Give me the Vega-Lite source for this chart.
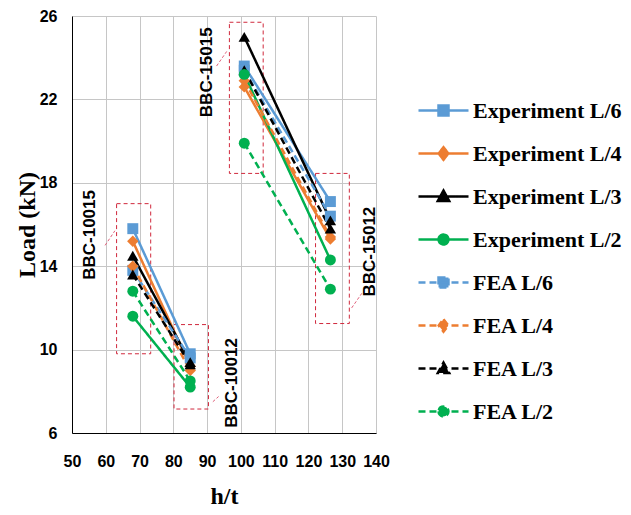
{
  "$schema": "https://vega.github.io/schema/vega-lite/v6.json",
  "autosize": {"type": "none"},
  "width": 304,
  "height": 417,
  "padding": {"left": 72, "top": 16, "right": 255, "bottom": 82},
  "background": "white",
  "config": {
    "view": {"stroke": null},
    "axis": {
      "gridColor": "#c6c6c6",
      "gridWidth": 1,
      "domainColor": "#000000",
      "domainWidth": 1,
      "ticks": false,
      "labelOverlap": false,
      "labelFlush": false,
      "labelFont": "Liberation Sans",
      "labelFontSize": 16,
      "labelFontWeight": "bold",
      "labelColor": "#000000",
      "titleFont": "Liberation Serif",
      "titleFontWeight": "bold",
      "titleColor": "#000000",
      "titleFontSize": 24
    },
    "axisX": {"labelOverlap": false, "labelFlush": false}
  },
  "datasets": {
    "series": [
      {"series": "Experiment L/6", "group": "BBC-100", "ht": 68, "load": 15.8},
      {"series": "Experiment L/6", "group": "BBC-100", "ht": 85, "load": 9.8},
      {"series": "Experiment L/6", "group": "BBC-150", "ht": 101, "load": 23.6},
      {"series": "Experiment L/6", "group": "BBC-150", "ht": 126.5, "load": 17.1},
      {"series": "Experiment L/4", "group": "BBC-100", "ht": 68, "load": 15.2},
      {"series": "Experiment L/4", "group": "BBC-100", "ht": 85, "load": 9.2},
      {"series": "Experiment L/4", "group": "BBC-150", "ht": 101, "load": 22.6},
      {"series": "Experiment L/4", "group": "BBC-150", "ht": 126.5, "load": 15.3},
      {"series": "Experiment L/3", "group": "BBC-100", "ht": 68, "load": 14.5},
      {"series": "Experiment L/3", "group": "BBC-100", "ht": 85, "load": 9.4},
      {"series": "Experiment L/3", "group": "BBC-150", "ht": 101, "load": 25.0},
      {"series": "Experiment L/3", "group": "BBC-150", "ht": 126.5, "load": 16.2},
      {"series": "Experiment L/2", "group": "BBC-100", "ht": 68, "load": 11.6},
      {"series": "Experiment L/2", "group": "BBC-100", "ht": 85, "load": 8.2},
      {"series": "Experiment L/2", "group": "BBC-150", "ht": 101, "load": 23.2},
      {"series": "Experiment L/2", "group": "BBC-150", "ht": 126.5, "load": 14.3},
      {"series": "FEA L/6", "group": "BBC-100", "ht": 68, "load": 13.8},
      {"series": "FEA L/6", "group": "BBC-100", "ht": 85, "load": 9.6},
      {"series": "FEA L/6", "group": "BBC-150", "ht": 101, "load": 23.4},
      {"series": "FEA L/6", "group": "BBC-150", "ht": 126.5, "load": 16.4},
      {"series": "FEA L/4", "group": "BBC-100", "ht": 68, "load": 14.0},
      {"series": "FEA L/4", "group": "BBC-100", "ht": 85, "load": 9.0},
      {"series": "FEA L/4", "group": "BBC-150", "ht": 101, "load": 22.9},
      {"series": "FEA L/4", "group": "BBC-150", "ht": 126.5, "load": 15.4},
      {"series": "FEA L/3", "group": "BBC-100", "ht": 68, "load": 13.6},
      {"series": "FEA L/3", "group": "BBC-100", "ht": 85, "load": 9.3},
      {"series": "FEA L/3", "group": "BBC-150", "ht": 101, "load": 23.4},
      {"series": "FEA L/3", "group": "BBC-150", "ht": 126.5, "load": 15.8},
      {"series": "FEA L/2", "group": "BBC-100", "ht": 68, "load": 12.8},
      {"series": "FEA L/2", "group": "BBC-100", "ht": 85, "load": 8.5},
      {"series": "FEA L/2", "group": "BBC-150", "ht": 101, "load": 19.9},
      {"series": "FEA L/2", "group": "BBC-150", "ht": 126.5, "load": 12.9}
    ],
    "boxes": [
      {"name": "BBC-10015", "ht": 63.2, "ht2": 73.3, "load": 9.8, "load2": 17.0},
      {"name": "BBC-10012", "ht": 80.2, "ht2": 90.4, "load": 7.15, "load2": 11.2},
      {"name": "BBC-15015", "ht": 96.6, "ht2": 106.6, "load": 18.45, "load2": 25.7},
      {"name": "BBC-15012", "ht": 122.1, "ht2": 132.1, "load": 11.25, "load2": 18.45}
    ],
    "labels": [
      {"name": "BBC-10015", "ht": 55.4, "load": 15.5},
      {"name": "BBC-10012", "ht": 97.4, "load": 8.4},
      {"name": "BBC-15015", "ht": 89.9, "load": 23.3},
      {"name": "BBC-15012", "ht": 138.2, "load": 14.7}
    ],
    "leaders": [
      {"name": "BBC-10015", "ht": 59.8, "ht2": 62.7, "load": 15.0, "load2": 15.7},
      {"name": "BBC-10012", "ht": 91.7, "ht2": 93.4, "load": 7.5, "load2": 7.75},
      {"name": "BBC-15015", "ht": 92.8, "ht2": 95.8, "load": 23.6, "load2": 24.3},
      {"name": "BBC-15012", "ht": 132.8, "ht2": 135.8, "load": 12.0, "load2": 12.7}
    ]
  },
  "encoding": {
    "x": {
      "field": "ht", "type": "quantitative",
      "scale": {"domain": [50, 140], "nice": false, "zero": false},
      "axis": {"title": "h/t", "values": [50, 60, 70, 80, 90, 100, 110, 120, 130, 140], "labelOverlap": false, "labelFlush": false, "labelPadding": 20, "titlePadding": 15, "grid": true}
    },
    "y": {
      "field": "load", "type": "quantitative",
      "scale": {"domain": [6, 26], "nice": false, "zero": false},
      "axis": {"title": "Load (kN)", "values": [6, 10, 14, 18, 22, 26], "labelOverlap": false, "labelPadding": 15, "titlePadding": 0, "grid": true}
    }
  },
  "layer": [
    {
      "data": {"name": "boxes"},
      "mark": {"type": "rect", "fill": null, "stroke": "#d0283c", "strokeWidth": 1, "strokeDash": [4, 3]},
      "encoding": {
        "x2": {"field": "ht2"},
        "y2": {"field": "load2"}
      }
    },
    {
      "data": {"name": "leaders"},
      "mark": {"type": "rule", "stroke": "#e0607a", "strokeWidth": 1, "strokeDash": [3, 2]},
      "encoding": {
        "x2": {"field": "ht2"},
        "y2": {"field": "load2"}
      }
    },
    {
      "data": {"name": "series"},
      "encoding": {
        "color": {
          "field": "series", "type": "nominal",
          "scale": {
            "domain": ["Experiment L/6", "Experiment L/4", "Experiment L/3", "Experiment L/2", "FEA L/6", "FEA L/4", "FEA L/3", "FEA L/2"],
            "range": ["#5b9bd5", "#ed7d31", "#000000", "#00b050", "#5b9bd5", "#ed7d31", "#000000", "#00b050"]
          },
          "legend": {
            "orient": "none",
            "legendX": 355,
            "legendY": 78,
            "title": null,
            "padding": 0,
            "symbolSize": 900,
            "symbolType": "M-1.667,0H1.667",
            "labelFont": "Liberation Serif",
            "labelFontSize": 22,
            "labelFontWeight": "bold",
            "labelColor": "#000000",
            "labelOffset": 13,
            "labelLimit": 300,
            "rowPadding": 15,
            "encode": {
              "symbols": {
                "update": {
                  "shape": {"signal": "indexof(datum.value,'L/6')>=0 ? 'M-1.667,0H1.667M-0.333,-0.333H0.333V0.333H-0.333Z' : indexof(datum.value,'L/4')>=0 ? 'M-1.667,0H1.667M0,-0.42L0.32,0L0,0.42L-0.32,0Z' : indexof(datum.value,'L/3')>=0 ? 'M-1.667,0H1.667M0,-0.4L0.38,0.3L-0.38,0.3Z' : 'M-1.667,0H1.667M-0.33,0A0.33,0.33,0,1,0,0.33,0A0.33,0.33,0,1,0,-0.33,0Z'"},
                  "fill": {"scale": "color", "field": "value"},
                  "stroke": {"scale": "color", "field": "value"},
                  "strokeDash": {"signal": "indexof(datum.value,'FEA')==0 ? [6,3] : [1,0]"},
                  "strokeWidth": {"value": 2.5},
                  "opacity": {"value": 1}
                }
              }
            }
          }
        }
      },
      "layer": [
        {
          "mark": {"type": "line", "strokeWidth": 2.5},
          "encoding": {
            "detail": {"field": "group", "type": "nominal"},
            "strokeDash": {
              "field": "series", "type": "nominal",
              "scale": {
                "domain": ["Experiment L/6", "Experiment L/4", "Experiment L/3", "Experiment L/2", "FEA L/6", "FEA L/4", "FEA L/3", "FEA L/2"],
                "range": [[1, 0], [1, 0], [1, 0], [1, 0], [7, 4], [7, 4], [7, 4], [7, 4]]
              },
              "legend": null
            }
          }
        },
        {
          "transform": [{"filter": "indexof(datum.series,'L/6')>=0"}],
          "mark": {"type": "point", "shape": "square", "filled": true, "opacity": 1, "size": 120}
        },
        {
          "transform": [{"filter": "indexof(datum.series,'L/4')>=0"}],
          "mark": {"type": "point", "shape": "diamond", "filled": true, "opacity": 1, "size": 130}
        },
        {
          "transform": [{"filter": "indexof(datum.series,'L/3')>=0"}],
          "mark": {"type": "point", "shape": "triangle-up", "filled": true, "opacity": 1, "size": 130}
        },
        {
          "transform": [{"filter": "indexof(datum.series,'L/2')>=0"}],
          "mark": {"type": "point", "shape": "circle", "filled": true, "opacity": 1, "size": 120}
        }
      ]
    },
    {
      "data": {"name": "labels"},
      "mark": {"type": "text", "angle": 270, "font": "Liberation Sans", "fontWeight": "bold", "fontSize": 17, "color": "#000000", "align": "center", "baseline": "middle"},
      "encoding": {
        "text": {"field": "name"}
      }
    }
  ]
}
